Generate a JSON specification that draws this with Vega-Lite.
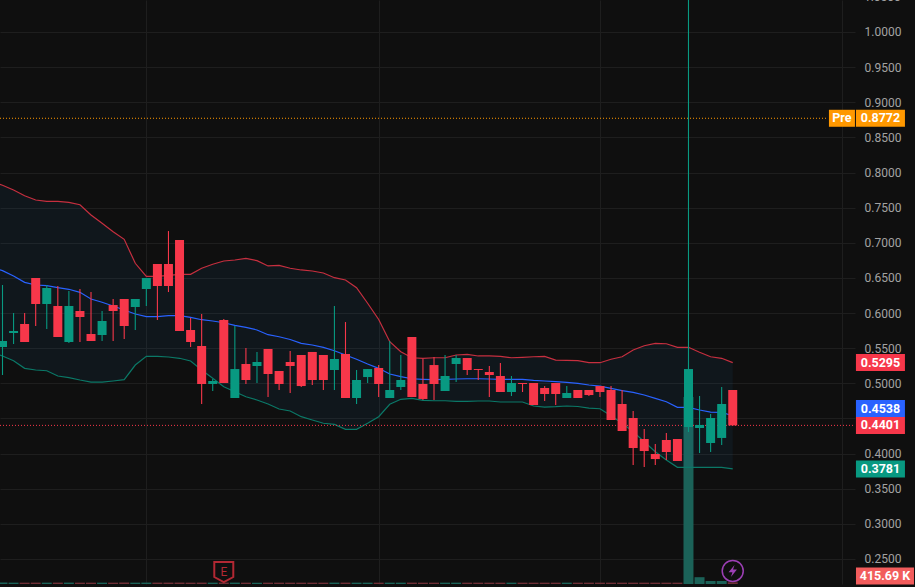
{
"$schema":"https://vega.github.io/schema/vega-lite/v6.json",
"width":855,"height":584,
"autosize":"none",
"padding":{"left":0,"top":0,"right":60,"bottom":3},
"background":"#0f0f0f",
"config":{"view":{"stroke":null},"text":{"font":"Roboto"},"axis":{"labelFont":"Roboto"}},
"datasets":{
"candles":[
{"i":0,"open":0.5517,"high":0.6399,"low":0.5118,"close":0.5602,"dir":"up","volume":350000},
{"i":1,"open":0.5716,"high":0.6,"low":0.5559,"close":0.5744,"dir":"up","volume":340000},
{"i":2,"open":0.5844,"high":0.6,"low":0.5588,"close":0.5588,"dir":"down","volume":340000},
{"i":3,"open":0.6499,"high":0.6499,"low":0.5816,"close":0.6129,"dir":"down","volume":350000},
{"i":4,"open":0.6129,"high":0.6399,"low":0.5773,"close":0.6356,"dir":"up","volume":340000},
{"i":5,"open":0.61,"high":0.6385,"low":0.5659,"close":0.5659,"dir":"down","volume":350000},
{"i":6,"open":0.5588,"high":0.6313,"low":0.5574,"close":0.61,"dir":"up","volume":350000},
{"i":7,"open":0.6029,"high":0.6342,"low":0.5588,"close":0.5944,"dir":"down","volume":340000},
{"i":8,"open":0.5702,"high":0.6299,"low":0.5602,"close":0.5602,"dir":"down","volume":340000},
{"i":9,"open":0.5687,"high":0.6029,"low":0.5602,"close":0.5887,"dir":"up","volume":340000},
{"i":10,"open":0.6114,"high":0.62,"low":0.5602,"close":0.6029,"dir":"down","volume":340000},
{"i":11,"open":0.62,"high":0.62,"low":0.5631,"close":0.5816,"dir":"down","volume":350000},
{"i":12,"open":0.6086,"high":0.62,"low":0.5759,"close":0.62,"dir":"up","volume":340000},
{"i":13,"open":0.6342,"high":0.6499,"low":0.61,"close":0.6499,"dir":"up","volume":350000},
{"i":14,"open":0.6698,"high":0.6698,"low":0.5901,"close":0.6385,"dir":"down","volume":350000},
{"i":15,"open":0.6698,"high":0.7167,"low":0.6299,"close":0.6385,"dir":"down","volume":350000},
{"i":16,"open":0.7039,"high":0.7039,"low":0.5744,"close":0.5744,"dir":"down","volume":360000},
{"i":17,"open":0.5759,"high":0.593,"low":0.5517,"close":0.5588,"dir":"down","volume":340000},
{"i":18,"open":0.5531,"high":0.5986,"low":0.4705,"close":0.499,"dir":"down","volume":350000},
{"i":19,"open":0.499,"high":0.5061,"low":0.489,"close":0.5033,"dir":"up","volume":340000},
{"i":20,"open":0.5901,"high":0.5915,"low":0.5004,"close":0.5004,"dir":"down","volume":350000},
{"i":21,"open":0.4791,"high":0.5816,"low":0.4791,"close":0.5203,"dir":"up","volume":350000},
{"i":22,"open":0.5275,"high":0.5502,"low":0.499,"close":0.5047,"dir":"down","volume":340000},
{"i":23,"open":0.5246,"high":0.5446,"low":0.5004,"close":0.5303,"dir":"up","volume":340000},
{"i":24,"open":0.5488,"high":0.5488,"low":0.4805,"close":0.5132,"dir":"down","volume":340000},
{"i":25,"open":0.5175,"high":0.5175,"low":0.4905,"close":0.499,"dir":"down","volume":340000},
{"i":26,"open":0.5303,"high":0.546,"low":0.4862,"close":0.5246,"dir":"down","volume":340000},
{"i":27,"open":0.5403,"high":0.5403,"low":0.4947,"close":0.4961,"dir":"down","volume":340000},
{"i":28,"open":0.5446,"high":0.5446,"low":0.4976,"close":0.5047,"dir":"down","volume":340000},
{"i":29,"open":0.5403,"high":0.5403,"low":0.4905,"close":0.5047,"dir":"down","volume":340000},
{"i":30,"open":0.5189,"high":0.61,"low":0.4905,"close":0.5346,"dir":"up","volume":350000},
{"i":31,"open":0.5417,"high":0.5872,"low":0.4791,"close":0.4791,"dir":"down","volume":350000},
{"i":32,"open":0.4791,"high":0.5189,"low":0.4705,"close":0.5047,"dir":"up","volume":340000},
{"i":33,"open":0.5089,"high":0.5203,"low":0.5004,"close":0.5203,"dir":"up","volume":340000},
{"i":34,"open":0.5218,"high":0.526,"low":0.4805,"close":0.499,"dir":"down","volume":340000},
{"i":35,"open":0.4791,"high":0.5602,"low":0.4791,"close":0.4905,"dir":"up","volume":340000},
{"i":36,"open":0.4947,"high":0.5403,"low":0.4905,"close":0.5047,"dir":"up","volume":340000},
{"i":37,"open":0.5659,"high":0.5659,"low":0.4805,"close":0.4805,"dir":"down","volume":350000},
{"i":38,"open":0.499,"high":0.5346,"low":0.4762,"close":0.4777,"dir":"down","volume":340000},
{"i":39,"open":0.526,"high":0.5374,"low":0.4762,"close":0.499,"dir":"down","volume":340000},
{"i":40,"open":0.489,"high":0.5403,"low":0.489,"close":0.5104,"dir":"up","volume":340000},
{"i":41,"open":0.5275,"high":0.5403,"low":0.5018,"close":0.536,"dir":"up","volume":340000},
{"i":42,"open":0.536,"high":0.536,"low":0.5118,"close":0.5189,"dir":"down","volume":340000},
{"i":43,"open":0.5203,"high":0.5203,"low":0.5047,"close":0.5189,"dir":"down","volume":340000},
{"i":44,"open":0.5161,"high":0.5246,"low":0.4805,"close":0.5118,"dir":"down","volume":340000},
{"i":45,"open":0.5104,"high":0.5289,"low":0.4876,"close":0.4876,"dir":"down","volume":340000},
{"i":46,"open":0.4876,"high":0.5104,"low":0.4819,"close":0.5004,"dir":"up","volume":340000},
{"i":47,"open":0.5004,"high":0.5004,"low":0.4876,"close":0.499,"dir":"down","volume":340000},
{"i":48,"open":0.5004,"high":0.5004,"low":0.4691,"close":0.4691,"dir":"down","volume":340000},
{"i":49,"open":0.4933,"high":0.4961,"low":0.4748,"close":0.4848,"dir":"down","volume":340000},
{"i":50,"open":0.5004,"high":0.5004,"low":0.4691,"close":0.4848,"dir":"down","volume":340000},
{"i":51,"open":0.4791,"high":0.4961,"low":0.4791,"close":0.4862,"dir":"up","volume":340000},
{"i":52,"open":0.4905,"high":0.4905,"low":0.4791,"close":0.4791,"dir":"down","volume":340000},
{"i":53,"open":0.4905,"high":0.4905,"low":0.4819,"close":0.4833,"dir":"down","volume":340000},
{"i":54,"open":0.4961,"high":0.4961,"low":0.4805,"close":0.4876,"dir":"down","volume":340000},
{"i":55,"open":0.4905,"high":0.4961,"low":0.4478,"close":0.4478,"dir":"down","volume":340000},
{"i":56,"open":0.4705,"high":0.4905,"low":0.4321,"close":0.4321,"dir":"down","volume":340000},
{"i":57,"open":0.4506,"high":0.4606,"low":0.3837,"close":0.4079,"dir":"down","volume":340000},
{"i":58,"open":0.4207,"high":0.435,"low":0.3809,"close":0.4036,"dir":"down","volume":340000},
{"i":59,"open":0.3994,"high":0.4136,"low":0.3837,"close":0.3922,"dir":"down","volume":340000},
{"i":60,"open":0.4193,"high":0.4293,"low":0.3908,"close":0.4022,"dir":"down","volume":340000},
{"i":61,"open":0.4207,"high":0.4207,"low":0.3894,"close":0.3894,"dir":"down","volume":340000},
{"i":62,"open":0.4378,"high":1.2,"low":0.4307,"close":0.5203,"dir":"up","volume":46750000},
{"i":63,"open":0.4364,"high":0.4819,"low":0.4008,"close":0.4407,"dir":"up","volume":1700000},
{"i":64,"open":0.415,"high":0.4563,"low":0.4022,"close":0.4506,"dir":"up","volume":750000},
{"i":65,"open":0.4222,"high":0.4947,"low":0.4122,"close":0.4705,"dir":"up","volume":750000},
{"i":66,"open":0.4905,"high":0.4905,"low":0.4401,"close":0.4401,"dir":"down","volume":415690}
],
"bands":[
{"i":-1,"upper":0.7879,"basis":0.6655,"lower":0.5446},
{"i":0,"upper":0.7818,"basis":0.6603,"lower":0.5389},
{"i":1,"upper":0.7751,"basis":0.6527,"lower":0.5322},
{"i":2,"upper":0.767,"basis":0.6437,"lower":0.5213},
{"i":3,"upper":0.7609,"basis":0.6399,"lower":0.5189},
{"i":4,"upper":0.759,"basis":0.6389,"lower":0.5179},
{"i":5,"upper":0.759,"basis":0.6361,"lower":0.5104},
{"i":6,"upper":0.7576,"basis":0.6338,"lower":0.508},
{"i":7,"upper":0.7542,"basis":0.6295,"lower":0.5047},
{"i":8,"upper":0.7395,"basis":0.62,"lower":0.5018},
{"i":9,"upper":0.7277,"basis":0.6153,"lower":0.5018},
{"i":10,"upper":0.7158,"basis":0.61,"lower":0.5033},
{"i":11,"upper":0.7049,"basis":0.6043,"lower":0.5051},
{"i":12,"upper":0.6708,"basis":0.5986,"lower":0.526},
{"i":13,"upper":0.6523,"basis":0.5948,"lower":0.5384},
{"i":14,"upper":0.6523,"basis":0.5948,"lower":0.5384},
{"i":15,"upper":0.6537,"basis":0.5962,"lower":0.5374},
{"i":16,"upper":0.6551,"basis":0.5962,"lower":0.5356},
{"i":17,"upper":0.6551,"basis":0.5939,"lower":0.5317},
{"i":18,"upper":0.6637,"basis":0.5905,"lower":0.5189},
{"i":19,"upper":0.6694,"basis":0.5887,"lower":0.5071},
{"i":20,"upper":0.6741,"basis":0.5862,"lower":0.4951},
{"i":21,"upper":0.6755,"basis":0.5825,"lower":0.488},
{"i":22,"upper":0.6779,"basis":0.5797,"lower":0.4809},
{"i":23,"upper":0.6745,"basis":0.5759,"lower":0.4762},
{"i":24,"upper":0.667,"basis":0.5692,"lower":0.4705},
{"i":25,"upper":0.6679,"basis":0.5663,"lower":0.4634},
{"i":26,"upper":0.6637,"basis":0.5623,"lower":0.4606},
{"i":27,"upper":0.6613,"basis":0.5569,"lower":0.4525},
{"i":28,"upper":0.6598,"basis":0.5545,"lower":0.4478},
{"i":29,"upper":0.657,"basis":0.5512,"lower":0.4431},
{"i":30,"upper":0.6503,"basis":0.5464,"lower":0.4416},
{"i":31,"upper":0.647,"basis":0.5403,"lower":0.4345},
{"i":32,"upper":0.6361,"basis":0.5342,"lower":0.4345},
{"i":33,"upper":0.6139,"basis":0.5275,"lower":0.4431},
{"i":34,"upper":0.5908,"basis":0.5213,"lower":0.4525},
{"i":35,"upper":0.5592,"basis":0.5132,"lower":0.4701},
{"i":36,"upper":0.545,"basis":0.5094,"lower":0.4772},
{"i":37,"upper":0.5364,"basis":0.5065,"lower":0.4786},
{"i":38,"upper":0.5356,"basis":0.5057,"lower":0.4758},
{"i":39,"upper":0.5364,"basis":0.5051,"lower":0.4752},
{"i":40,"upper":0.5364,"basis":0.5057,"lower":0.4752},
{"i":41,"upper":0.5403,"basis":0.5061,"lower":0.4744},
{"i":42,"upper":0.5413,"basis":0.5065,"lower":0.4744},
{"i":43,"upper":0.5389,"basis":0.5065,"lower":0.4748},
{"i":44,"upper":0.5389,"basis":0.5061,"lower":0.4748},
{"i":45,"upper":0.5384,"basis":0.5057,"lower":0.4734},
{"i":46,"upper":0.5364,"basis":0.5057,"lower":0.4734},
{"i":47,"upper":0.537,"basis":0.5057,"lower":0.4734},
{"i":48,"upper":0.5378,"basis":0.5042,"lower":0.4677},
{"i":49,"upper":0.5384,"basis":0.5033,"lower":0.4662},
{"i":50,"upper":0.5331,"basis":0.5023,"lower":0.4667},
{"i":51,"upper":0.5327,"basis":0.5014,"lower":0.4677},
{"i":52,"upper":0.5322,"basis":0.5,"lower":0.467},
{"i":53,"upper":0.5293,"basis":0.4976,"lower":0.4648},
{"i":54,"upper":0.5293,"basis":0.4961,"lower":0.4638},
{"i":55,"upper":0.5342,"basis":0.4929,"lower":0.4539},
{"i":56,"upper":0.5378,"basis":0.4895,"lower":0.4431},
{"i":57,"upper":0.5474,"basis":0.4872,"lower":0.4311},
{"i":58,"upper":0.5535,"basis":0.4833,"lower":0.4169},
{"i":59,"upper":0.5569,"basis":0.4786,"lower":0.4026},
{"i":60,"upper":0.5563,"basis":0.4738,"lower":0.3908},
{"i":61,"upper":0.5512,"basis":0.4658,"lower":0.3804},
{"i":62,"upper":0.5512,"basis":0.4658,"lower":0.3804},
{"i":63,"upper":0.5441,"basis":0.462,"lower":0.3804},
{"i":64,"upper":0.5378,"basis":0.4591,"lower":0.3804},
{"i":65,"upper":0.5356,"basis":0.4587,"lower":0.3804},
{"i":66,"upper":0.5295,"basis":0.4538,"lower":0.3781}
],
"badges":[
{"name":"Upper","at":0.5295,"label":"0.5295"},
{"name":"Basis","at":0.4641,"label":"0.4538"},
{"name":"Last","at":0.4401,"label":"0.4401"},
{"name":"Lower","at":0.3781,"label":"0.3781"},
{"name":"Pre","at":0.8772,"label":"0.8772"}
]
},
"resolve":{"scale":{"y":"independent"}},
"layer":[
{
"data":{"name":"candles"},
"mark":{"type":"bar","size":10,"orient":"vertical"},
"encoding":{
"x":{"field":"i","type":"quantitative","scale":{"domain":[-0.226,77.05],"nice":false,"zero":false,"padding":0},"axis":{"title":null,"labels":false,"ticks":false,"domain":false,"grid":true,"gridColor":"#1e1e1e","gridWidth":1,"values":[13,34,54,75.9]}},
"y":{"field":"volume","type":"quantitative","stack":null,"scale":{"domain":[0,146000000],"nice":false,"zero":false},"axis":null},
"color":{"condition":{"test":"datum.dir==='up'","value":"#1b6258"},"value":"#6e2f36"}
}
},
{
"layer":[
{
"data":{"name":"bands"},
"mark":{"type":"area","color":"#2196f3","opacity":0.06,"clip":true},
"encoding":{
"x":{"field":"i","type":"quantitative"},
"y":{"field":"upper","type":"quantitative","scale":{"domain":[0.21435,1.04554],"nice":false,"zero":false},"axis":{"orient":"right","title":null,"values":[0.25,0.3,0.35,0.4,0.45,0.5,0.55,0.6,0.65,0.7,0.75,0.8,0.85,0.9,0.95,1.0],"tickCount":20,"format":".4f","labelExpr":"abs(datum.value-0.45)<0.001 ? '' : datum.label","domain":false,"ticks":false,"labelPadding":9,"labelFontSize":12,"labelFont":"Roboto","labelColor":"#a3a3a3","labelOverlap":false,"labelFlush":false,"grid":true,"gridColor":"#1e1e1e","gridWidth":1}},
"y2":{"field":"lower"}
}
},
{
"data":{"name":"bands"},
"mark":{"type":"line","color":"#c62f3f","strokeWidth":1.2,"clip":true},
"encoding":{"x":{"field":"i","type":"quantitative"},"y":{"field":"upper","type":"quantitative"}}
},
{
"data":{"name":"bands"},
"mark":{"type":"line","color":"#0b7867","strokeWidth":1.2,"clip":true},
"encoding":{"x":{"field":"i","type":"quantitative"},"y":{"field":"lower","type":"quantitative"}}
},
{
"data":{"name":"bands"},
"mark":{"type":"line","color":"#2962ff","strokeWidth":1.2,"clip":true},
"encoding":{"x":{"field":"i","type":"quantitative"},"y":{"field":"basis","type":"quantitative"}}
},
{
"data":{"values":[{"level":0.8772}]},
"mark":{"type":"rule","color":"#ff9800","strokeWidth":1,"strokeDash":[1,2]},
"encoding":{"y":{"field":"level","type":"quantitative"},"x":{"datum":-0.226,"type":"quantitative"},"x2":{"datum":74.51}}
},
{
"data":{"values":[{"level":0.4401}]},
"mark":{"type":"rule","color":"#f7374a","strokeWidth":1,"strokeDash":[1,2]},
"encoding":{"y":{"field":"level","type":"quantitative"},"x":{"datum":-0.226,"type":"quantitative"},"x2":{"datum":77.05}}
},
{
"data":{"name":"candles"},
"mark":{"type":"rule","strokeWidth":1.1,"clip":true},
"encoding":{
"x":{"field":"i","type":"quantitative"},
"y":{"field":"low","type":"quantitative"},
"y2":{"field":"high"},
"color":{"field":"dir","type":"nominal","scale":{"domain":["up","down","Upper","Basis","Last","Lower","Pre"],"range":["#089981","#f7374a","#f7374a","#2962ff","#f7374a","#089981","#ff9800"]},"legend":null}
}
},
{
"data":{"name":"candles"},
"mark":{"type":"bar","size":9,"orient":"vertical"},
"encoding":{
"x":{"field":"i","type":"quantitative"},
"y":{"field":"open","type":"quantitative","stack":null},
"y2":{"field":"close"},
"color":{"field":"dir","type":"nominal","legend":null}
}
},
{
"data":{"values":[{"event":"E","i":20,"at":0.2314}]},
"mark":{"type":"point","shape":"M-0.95,-1 L0.95,-1 L0.95,0.5 L0,1 L-0.95,0.5 Z","size":400,"filled":false,"color":"#b22833","strokeWidth":2,"opacity":1},
"encoding":{"x":{"field":"i","type":"quantitative"},"y":{"field":"at","type":"quantitative"}}
},
{
"data":{"values":[{"event":"E","i":20,"at":0.2314}]},
"mark":{"type":"text","color":"#b22833","fontSize":12,"align":"center","baseline":"middle"},
"encoding":{"x":{"field":"i","type":"quantitative"},"y":{"field":"at","type":"quantitative"},"text":{"field":"event"}}
},
{
"data":{"values":[{"i":66,"at":0.2329}]},
"mark":{"type":"point","shape":"circle","size":441,"filled":false,"color":"#9c3fb5","strokeWidth":1.5,"opacity":1},
"encoding":{"x":{"field":"i","type":"quantitative"},"y":{"field":"at","type":"quantitative"}}
},
{
"data":{"values":[{"i":66,"at":0.2329}]},
"mark":{"type":"point","shape":"M0.3,-1 L-0.7,0.2 L-0.05,0.2 L-0.3,1 L0.7,-0.25 L0.05,-0.25 Z","size":144,"filled":true,"color":"#9c3fb5","opacity":1},
"encoding":{"x":{"field":"i","type":"quantitative"},"y":{"field":"at","type":"quantitative"}}
},
{
"data":{"values":[{"t":"1.0500","at":1.05}]},
"mark":{"type":"text","color":"#a3a3a3","fontSize":12,"align":"left","baseline":"middle"},
"encoding":{"x":{"datum":77.86,"type":"quantitative"},"y":{"field":"at","type":"quantitative"},"text":{"field":"t"}}
},
{
"data":{"name":"badges"},
"mark":{"type":"rect","width":49,"height":17},
"encoding":{
"x":{"datum":79.35,"type":"quantitative"},
"y":{"field":"at","type":"quantitative"},
"color":{"field":"name","type":"nominal","legend":null}
}
},
{
"data":{"name":"badges"},
"mark":{"type":"text","color":"#ffffff","fontSize":12.5,"fontWeight":"bold","align":"center","baseline":"middle"},
"encoding":{"x":{"datum":79.35,"type":"quantitative"},"y":{"field":"at","type":"quantitative"},"text":{"field":"label"}}
},
{
"data":{"values":[{"t":"Pre","at":0.8772}]},
"mark":{"type":"rect","width":26,"height":17,"color":"#ff9800"},
"encoding":{"x":{"datum":75.87,"type":"quantitative"},"y":{"field":"at","type":"quantitative"}}
},
{
"data":{"values":[{"t":"Pre","at":0.8772}]},
"mark":{"type":"text","color":"#ffffff","fontSize":12.5,"fontWeight":"bold","align":"center","baseline":"middle"},
"encoding":{"x":{"datum":75.87,"type":"quantitative"},"y":{"field":"at","type":"quantitative"},"text":{"field":"t"}}
},
{
"data":{"values":[{"t":"415.69 K","at":0.2257}]},
"mark":{"type":"rect","width":58,"height":17,"color":"#f25c5c"},
"encoding":{"x":{"datum":79.76,"type":"quantitative"},"y":{"field":"at","type":"quantitative"}}
},
{
"data":{"values":[{"t":"415.69 K","at":0.2257}]},
"mark":{"type":"text","color":"#ffffff","fontSize":12.5,"fontWeight":"bold","align":"center","baseline":"middle"},
"encoding":{"x":{"datum":79.76,"type":"quantitative"},"y":{"field":"at","type":"quantitative"},"text":{"field":"t"}}
}
]
}
]
}
